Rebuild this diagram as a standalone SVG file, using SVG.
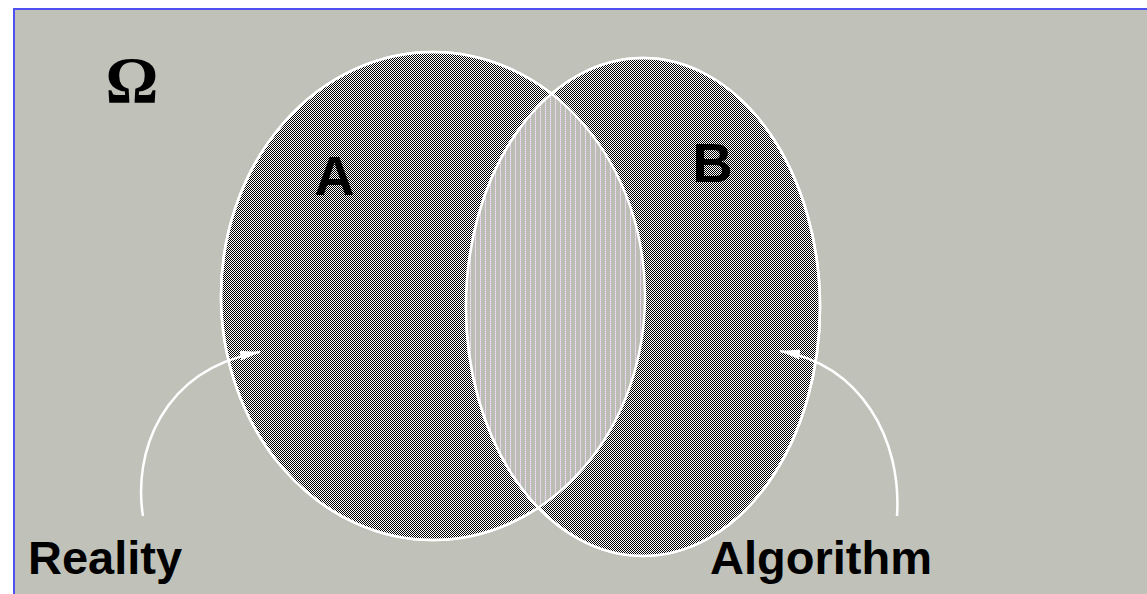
<svg xmlns="http://www.w3.org/2000/svg" width="1147" height="594" viewBox="0 0 1147 594">
<style>
.lbl{font-family:"Liberation Sans",Arial,sans-serif;font-weight:bold;fill:#000}
.set{fill:url(#checker);stroke:#fff;stroke-width:2.5}
.conn{fill:none;stroke:#fff;stroke-width:2.5}
</style>
<defs>
<pattern id="checker" width="2" height="2" patternUnits="userSpaceOnUse">
<rect width="2" height="2" fill="#fff"/>
<rect width="1" height="1" fill="#000"/>
<rect x="1" y="1" width="1" height="1" fill="#000"/>
</pattern>
<pattern id="stripes" width="5" height="2" patternUnits="userSpaceOnUse">
<rect width="5" height="2" fill="#bcbeb6"/>
<rect x="0" y="0" width="1" height="1" fill="#e4c6ee"/>
<rect x="0" y="1" width="1" height="1" fill="#e8e6ea"/>
</pattern>
<clipPath id="clipA">
<ellipse cx="433" cy="296" rx="212" ry="244"/>
</clipPath>
<marker id="arr" viewBox="0 0 20 10" refX="20" refY="5" markerWidth="20" markerHeight="10" markerUnits="userSpaceOnUse" orient="auto">
<path d="M0,0 L20,5 L0,10 Z" fill="#fff"/>
</marker>
</defs>
<rect x="0" y="0" width="1147" height="594" fill="#fff"/>
<rect x="14" y="9" width="1133" height="585" fill="#c0c2ba"/>
<rect x="13" y="8" width="1134" height="2" fill="#5050f0"/>
<rect x="13" y="8" width="2" height="586" fill="#5050f0"/>
<g id="setA">
<ellipse class="set" cx="433" cy="296" rx="212" ry="244"/>
</g>
<g id="setB">
<ellipse class="set" cx="643" cy="307" rx="177" ry="249"/>
</g>
<g id="intersection">
<ellipse cx="643" cy="307" rx="177" ry="249" fill="url(#stripes)" clip-path="url(#clipA)"/>
<ellipse cx="433" cy="296" rx="212" ry="244" fill="none" stroke="#fff" stroke-width="2.5"/>
<ellipse cx="643" cy="307" rx="177" ry="249" fill="none" stroke="#fff" stroke-width="2.5"/>
</g>
<g id="labels">
<text x="132" y="102" text-anchor="middle" font-family="'Liberation Serif','Times New Roman',serif" font-weight="bold" font-size="66" fill="#000">Ω</text>
<text class="lbl" x="334.5" y="195" text-anchor="middle" font-size="56">A</text>
<text class="lbl" x="712.5" y="182" text-anchor="middle" font-size="56">B</text>
</g>
<g id="reality">
<text class="lbl" x="28" y="574" font-size="47">Reality</text>
</g>
<g id="algorithm">
<text class="lbl" x="710" y="574" font-size="47">Algorithm</text>
</g>
<g id="connectors">
<path class="conn" d="M143,516 C133,455 160,370 260,352" marker-end="url(#arr)"/>
<path class="conn" d="M897,516 C902,440 862,365 780,351" marker-end="url(#arr)"/>
</g>
</svg>
